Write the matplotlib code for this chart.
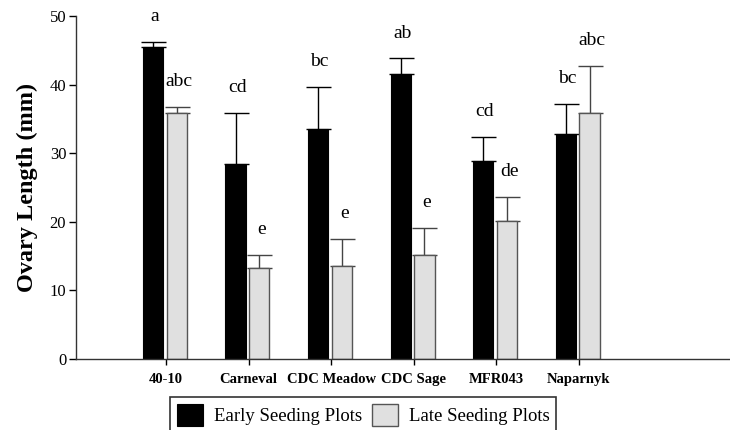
import matplotlib
matplotlib.use('Agg')
import matplotlib.pyplot as plt
import numpy as np

# Values (mm)
cultivars = ['40-10', 'Carneval', 'CDC Meadow', 'CDC Sage', 'MFR043', 'Naparnyk']
early = [45.4, 28.4, 33.5, 41.6, 28.9, 32.8]
early_se = [0.8, 7.4, 6.2, 2.2, 3.5, 4.4]
late = [35.8, 13.3, 13.6, 15.1, 20.1, 35.8]
late_se = [0.9, 1.9, 3.9, 4.0, 3.5, 6.9]
early_letters = ['a', 'cd', 'bc', 'ab', 'cd', 'bc']
late_letters = ['abc', 'e', 'e', 'e', 'de', 'abc']

plt.rcParams['font.family'] = ['Liberation Serif', 'DejaVu Serif']

fig = plt.figure(figsize=(7.3, 4.3), dpi=100)
ax = fig.add_axes([0.104, 0.165, 0.896, 0.798])

x = np.arange(len(cultivars))
w = 0.245
xe = x - 0.157
xl = x + 0.13

ax.bar(xe, early, w, color='black', edgecolor='black', linewidth=0.8,
       label='Early Seeding Plots', zorder=2)
ax.bar(xl, late, w, color='#e0e0e0', edgecolor='#555555', linewidth=1.0,
       label='Late Seeding Plots', zorder=2)
ax.errorbar(xe, early, yerr=[np.zeros(len(early)), early_se], fmt='none',
            ecolor='black', elinewidth=1.0, capsize=9, capthick=1.0, zorder=1)
ax.errorbar(xl, late, yerr=[np.zeros(len(late)), late_se], fmt='none',
            ecolor='#444444', elinewidth=1.0, capsize=9, capthick=1.0, zorder=1)

# significance letters above the error bars
for xi, v, s, t in zip(xe, early, early_se, early_letters):
    ax.text(xi + 0.02, v + s + 3.7, t, ha='center', va='center', fontsize=14)
for xi, v, s, t in zip(xl, late, late_se, late_letters):
    ax.text(xi + 0.03, v + s + 3.7, t, ha='center', va='center', fontsize=14)

ax.set_ylim(0, 50)
ax.set_xlim(-1.09, 6.83)
ax.set_yticks([0, 10, 20, 30, 40, 50])
ax.set_xticks(x)
ax.set_xticklabels(cultivars, fontweight='bold', fontsize=10.5)
ax.tick_params(axis='y', labelsize=12, length=5, width=1, direction='out', pad=2)
ax.tick_params(axis='x', length=4, width=1, direction='out', pad=6)
ax.set_ylabel('Ovary Length (mm)', fontsize=17.5, fontweight='bold', labelpad=8)

for side in ['top', 'right']:
    ax.spines[side].set_visible(False)
for side in ['left', 'bottom']:
    ax.spines[side].set_color('#333333')
    ax.spines[side].set_linewidth(1.0)

leg = fig.legend(loc='upper left', bbox_to_anchor=(170 / 730, 1 - 397 / 430),
                 ncol=2, fontsize=13.5, frameon=True, fancybox=False,
                 edgecolor='black', handlelength=1.4, handleheight=1.5,
                 handletextpad=0.6, columnspacing=0.5, borderpad=0.35,
                 borderaxespad=0)
leg.get_frame().set_linewidth(1.2)

fig.savefig('out.png', dpi=100)
